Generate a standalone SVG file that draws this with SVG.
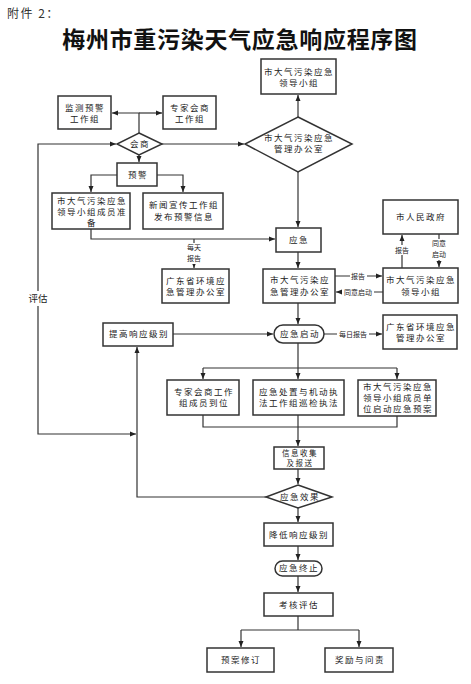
<svg xmlns="http://www.w3.org/2000/svg" width="471" height="684" viewBox="0 0 471 684">
<style>
.box{fill:#fff;stroke:#333;stroke-width:1.5}
.ln{fill:none;stroke:#333;stroke-width:1.2}
.t{font-family:"Noto Sans CJK SC","Noto Sans CJK JP",sans-serif;font-size:8.5px;letter-spacing:1.5px;fill:#222;text-anchor:middle}
.lb{font-family:"Noto Sans CJK SC","Noto Sans CJK JP",sans-serif;font-size:7px;fill:#222;text-anchor:middle}
.bg{fill:#fff}
</style>
<defs>
<marker id="a" viewBox="0 0 6 6" refX="6" refY="3" markerWidth="6" markerHeight="6" markerUnits="userSpaceOnUse" orient="auto">
<path d="M0,0.5 L6,3 L0,5.5 z" fill="#222"/>
</marker>
</defs>
<rect width="471" height="684" fill="#fff"/>
<text x="7" y="18" font-family="'Noto Sans CJK SC',sans-serif" font-size="12" letter-spacing="1.5" fill="#333">附件 2：</text>
<text x="240" y="48" font-family="'Noto Sans CJK SC',sans-serif" font-size="23" font-weight="bold" letter-spacing="0.7" text-anchor="middle" fill="#111">梅州市重污染天气应急响应程序图</text>

<g id="connectors">
<path class="ln" d="M298,117 V95" marker-end="url(#a)"/>
<path class="ln" d="M139,133 V113 H112" marker-end="url(#a)"/>
<path class="ln" d="M139,113 H162" marker-end="url(#a)"/>
<path class="ln" d="M162,144 H244" marker-end="url(#a)"/>
<path class="ln" d="M139,155 V162" marker-end="url(#a)"/>
<path class="ln" d="M117,175 H91 V192" marker-end="url(#a)"/>
<path class="ln" d="M157,175 H183 V192" marker-end="url(#a)"/>
<path class="ln" d="M91,229 V239 H275" marker-end="url(#a)"/>
<path class="ln" d="M194,239 V268" marker-end="url(#a)"/>
<path class="ln" d="M298,172 V227" marker-end="url(#a)"/>
<path class="ln" d="M298,252 V268" marker-end="url(#a)"/>
<path class="ln" d="M335,276 H382" marker-end="url(#a)"/>
<path class="ln" d="M383,292 H336" marker-end="url(#a)"/>
<path class="ln" d="M402,268 V235" marker-end="url(#a)"/>
<path class="ln" d="M439,234 V267" marker-end="url(#a)"/>
<path class="ln" d="M298,303 V324" marker-end="url(#a)"/>
<path class="ln" d="M173,334 H273" marker-end="url(#a)"/>
<path class="ln" d="M324,334 H382" marker-end="url(#a)"/>
<path class="ln" d="M298,343 V368"/>
<path class="ln" d="M203,368 H397"/>
<path class="ln" d="M203,368 V379" marker-end="url(#a)"/>
<path class="ln" d="M298,368 V379" marker-end="url(#a)"/>
<path class="ln" d="M397,368 V379" marker-end="url(#a)"/>
<path class="ln" d="M203,415 V427 H397 V416"/>
<path class="ln" d="M298,415 V446" marker-end="url(#a)"/>
<path class="ln" d="M298,469 V484" marker-end="url(#a)"/>
<path class="ln" d="M266,497 H137 V347" marker-end="url(#a)"/>
<path class="ln" d="M38,300 V434 H136" marker-end="url(#a)"/>
<path class="ln" d="M38,300 V144 H116" marker-end="url(#a)"/>
<path class="ln" d="M298,508 V522" marker-end="url(#a)"/>
<path class="ln" d="M298,546 V560" marker-end="url(#a)"/>
<path class="ln" d="M298,576 V592" marker-end="url(#a)"/>
<path class="ln" d="M298,616 V630"/>
<path class="ln" d="M241,630 H359"/>
<path class="ln" d="M241,630 V647" marker-end="url(#a)"/>
<path class="ln" d="M359,630 V647" marker-end="url(#a)"/>
<rect class="bg" x="30" y="291" width="16" height="15"/>
<text class="lb" x="38" y="302" style="font-size:9.5px">评估</text>
<rect class="bg" x="186" y="243" width="17" height="21"/>
<text class="lb" x="194" y="250">每天</text>
<text class="lb" x="194" y="261">报告</text>
<rect class="bg" x="350" y="271" width="17" height="9"/>
<text class="lb" x="358" y="279">报告</text>
<rect class="bg" x="342" y="287" width="32" height="9"/>
<text class="lb" x="358" y="295">同意启动</text>
<rect class="bg" x="393" y="245" width="17" height="10"/>
<text class="lb" x="402" y="253">报告</text>
<rect class="bg" x="431" y="239" width="17" height="21"/>
<text class="lb" x="439" y="246">同意</text>
<text class="lb" x="439" y="257">启动</text>
<rect class="bg" x="337" y="330" width="32" height="9"/>
<text class="lb" x="353" y="337">每日报告</text>
</g>

<g id="n-lead">
<rect class="box" x="261" y="59" width="75" height="35"/>
<text class="t" x="299" y="75">市大气污染应急</text>
<text class="t" x="299" y="86">领导小组</text>
</g>
<g id="n-office-d">
<polygon class="box" points="298,117 352,144 298,172 245,144"/>
<text class="t" x="299" y="141">市大气污染应急</text>
<text class="t" x="299" y="152">管理办公室</text>
</g>
<g id="n-monitor">
<rect class="box" x="58" y="96" width="53" height="33"/>
<text class="t" x="85" y="111">监测预警</text>
<text class="t" x="85" y="122">工作组</text>
</g>
<g id="n-expert">
<rect class="box" x="163" y="96" width="53" height="33"/>
<text class="t" x="190" y="111">专家会商</text>
<text class="t" x="190" y="122">工作组</text>
</g>
<g id="n-consult">
<polygon class="box" points="139,133 162,144 139,155 117,144"/>
<text class="t" x="140" y="147">会商</text>
</g>
<g id="n-warn">
<rect class="box" x="117" y="163" width="40" height="23"/>
<text class="t" x="138" y="178">预警</text>
</g>
<g id="n-prepare">
<rect class="box" x="52" y="193" width="78" height="36"/>
<text class="t" x="92" y="204">市大气污染应急</text>
<text class="t" x="92" y="215">领导小组成员准</text>
<text class="t" x="92" y="226">备</text>
</g>
<g id="n-news">
<rect class="box" x="143" y="193" width="80" height="36"/>
<text class="t" x="184" y="208">新闻宣传工作组</text>
<text class="t" x="184" y="220">发布预警信息</text>
</g>
<g id="n-gd1">
<rect class="box" x="162" y="269" width="67" height="34"/>
<text class="t" x="196" y="284">广东省环境应</text>
<text class="t" x="196" y="295">急管理办公室</text>
</g>
<g id="n-emerg">
<rect class="box" x="276" y="228" width="45" height="24"/>
<text class="t" x="299" y="243">应急</text>
</g>
<g id="n-office">
<rect class="box" x="263" y="269" width="72" height="34"/>
<text class="t" x="300" y="283">市大气污染应</text>
<text class="t" x="300" y="295">急管理办公室</text>
</g>
<g id="n-gov">
<rect class="box" x="383" y="200" width="75" height="34"/>
<text class="t" x="421" y="220">市人民政府</text>
</g>
<g id="n-lead2">
<rect class="box" x="383" y="268" width="75" height="35"/>
<text class="t" x="421" y="283">市大气污染应急</text>
<text class="t" x="421" y="295">领导小组</text>
</g>
<g id="n-start">
<rect class="box" x="274" y="325" width="50" height="18" rx="9"/>
<text class="t" x="300" y="337">应急启动</text>
</g>
<g id="n-raise">
<rect class="box" x="103" y="323" width="70" height="23"/>
<text class="t" x="139" y="337">提高响应级别</text>
</g>
<g id="n-gd2">
<rect class="box" x="383" y="315" width="74" height="34"/>
<text class="t" x="421" y="330">广东省环境应急</text>
<text class="t" x="421" y="341">管理办公室</text>
</g>
<g id="n-b1">
<rect class="box" x="167" y="380" width="72" height="35"/>
<text class="t" x="204" y="395">专家会商工作</text>
<text class="t" x="204" y="406">组成员到位</text>
</g>
<g id="n-b2">
<rect class="box" x="253" y="380" width="91" height="35"/>
<text class="t" x="299" y="395">应急处置与机动执</text>
<text class="t" x="299" y="406">法工作组巡检执法</text>
</g>
<g id="n-b3">
<rect class="box" x="358" y="380" width="78" height="36"/>
<text class="t" x="398" y="390">市大气污染应急</text>
<text class="t" x="398" y="401">领导小组成员单</text>
<text class="t" x="398" y="412">位启动应急预案</text>
</g>
<g id="n-info">
<rect class="box" x="274" y="447" width="50" height="22"/>
<text class="t" x="300" y="456" style="font-size:7.5px">信息收集</text>
<text class="t" x="300" y="466" style="font-size:7.5px">及报送</text>
</g>
<g id="n-effect">
<polygon class="box" points="298,485 332,497 298,508 266,497"/>
<text class="t" x="300" y="500">应急效果</text>
</g>
<g id="n-lower">
<rect class="box" x="264" y="523" width="69" height="23"/>
<text class="t" x="299" y="538">降低响应级别</text>
</g>
<g id="n-end">
<rect class="box" x="275" y="561" width="47" height="15" rx="7.5"/>
<text class="t" x="299" y="571">应急终止</text>
</g>
<g id="n-assess">
<rect class="box" x="264" y="593" width="69" height="23"/>
<text class="t" x="299" y="608">考核评估</text>
</g>
<g id="n-revise">
<rect class="box" x="207" y="648" width="67" height="24"/>
<text class="t" x="241" y="663">预案修订</text>
</g>
<g id="n-reward">
<rect class="box" x="325" y="648" width="68" height="24"/>
<text class="t" x="360" y="663">奖励与问责</text>
</g>
</svg>
